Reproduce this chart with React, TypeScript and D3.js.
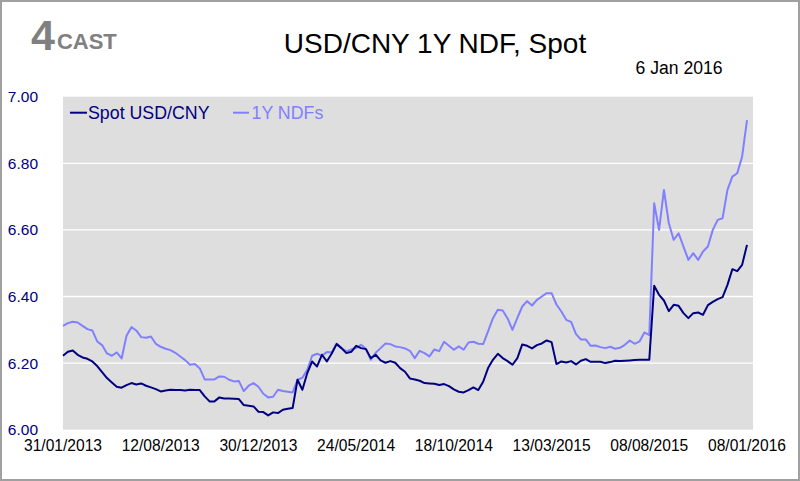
import React from "react";
import * as d3 from "d3";

const dateLabels = [
  "31/01/2013", "12/08/2013", "30/12/2013", "24/05/2014",
  "18/10/2014", "13/03/2015", "08/08/2015", "08/01/2016",
];
const yTicks = [6.0, 6.2, 6.4, 6.6, 6.8, 7.0];

const spot = [
  6.222, 6.234, 6.238, 6.225, 6.217, 6.213, 6.205, 6.191, 6.173, 6.155,
  6.142, 6.129, 6.126, 6.134, 6.140, 6.136, 6.139, 6.132, 6.127, 6.122,
  6.115, 6.118, 6.120, 6.119, 6.119, 6.118, 6.120, 6.119, 6.119, 6.100,
  6.085, 6.085, 6.097, 6.094, 6.094, 6.093, 6.092, 6.074, 6.072, 6.070,
  6.054, 6.053, 6.043, 6.052, 6.050, 6.060, 6.063, 6.065, 6.150, 6.120,
  6.170, 6.205, 6.190, 6.225, 6.205, 6.229, 6.257, 6.245, 6.230, 6.234,
  6.252, 6.245, 6.242, 6.215, 6.225, 6.208, 6.201, 6.206, 6.201, 6.185,
  6.174, 6.154, 6.151, 6.147, 6.140, 6.139, 6.138, 6.134, 6.137, 6.131,
  6.121, 6.114, 6.112, 6.119, 6.127, 6.119, 6.144, 6.185, 6.210, 6.228,
  6.215, 6.206, 6.195, 6.215, 6.256, 6.252, 6.244, 6.254, 6.259, 6.268,
  6.263, 6.197, 6.205, 6.202, 6.206, 6.196, 6.207, 6.212, 6.204, 6.204,
  6.204, 6.200, 6.203, 6.207, 6.206, 6.207, 6.208, 6.209, 6.210, 6.210,
  6.210, 6.432, 6.405, 6.388, 6.356, 6.375, 6.372, 6.350, 6.335, 6.350,
  6.352, 6.345, 6.374, 6.384, 6.392, 6.398, 6.435, 6.482, 6.476, 6.495,
  6.555,
];

const ndf = [
  6.312, 6.320, 6.324, 6.322, 6.312, 6.302, 6.298, 6.265, 6.254, 6.229,
  6.222, 6.232, 6.214, 6.282, 6.308, 6.298, 6.278, 6.276, 6.280, 6.258,
  6.249, 6.243, 6.239, 6.231, 6.220, 6.209, 6.195, 6.197, 6.184, 6.151,
  6.151, 6.151, 6.160, 6.159, 6.150, 6.145, 6.146, 6.116, 6.132, 6.140,
  6.129, 6.108, 6.097, 6.099, 6.120, 6.116, 6.114, 6.112, 6.150, 6.156,
  6.180, 6.222, 6.228, 6.222, 6.233, 6.232, 6.259, 6.245, 6.235, 6.241,
  6.246, 6.255, 6.243, 6.210, 6.231, 6.245, 6.259, 6.257, 6.250, 6.248,
  6.244, 6.237, 6.215, 6.237, 6.230, 6.220, 6.241, 6.236, 6.264, 6.252,
  6.240, 6.250, 6.240, 6.262, 6.264, 6.258, 6.257, 6.295, 6.335, 6.360,
  6.358, 6.334, 6.300, 6.336, 6.370, 6.386, 6.373, 6.390, 6.400, 6.410,
  6.410, 6.376, 6.355, 6.330, 6.324, 6.287, 6.271, 6.271, 6.252, 6.253,
  6.248, 6.245, 6.249, 6.243, 6.246, 6.255, 6.268, 6.258, 6.265, 6.292,
  6.284, 6.680, 6.600, 6.720, 6.620, 6.570, 6.590, 6.550, 6.510, 6.530,
  6.510, 6.535, 6.550, 6.600, 6.630, 6.635, 6.720, 6.760, 6.770, 6.820,
  6.930,
];

const seriesNames = ["Spot USD/CNY", "1Y NDFs"];
const seriesColors = ["#000080", "#8080ff"];

const W = 800;
const H = 481;
const plot = { left: 63, right: 753, top: 96.7, bottom: 429.7 };
const FONT = "'Liberation Sans', Arial, sans-serif";

export default function App() {
  const n = spot.length;
  const x = d3.scaleLinear().domain([0, n - 1]).range([63, 747]);
  const y = d3.scaleLinear().domain([6, 7]).range([plot.bottom, plot.top]);
  const step = (n - 1) / (dateLabels.length - 1);
  const line = d3
    .line<number>()
    .x((_, i) => x(i))
    .y((d) => y(d));

  return (
    <svg
      width={W}
      height={H}
      style={{ position: "absolute", left: 0, top: 0, background: "#fff" }}
      fontFamily={FONT}
    >
      <rect x={0} y={0} width={W} height={H} fill="#ffffff" />
      <rect x={1} y={1} width={W - 2} height={H - 2} fill="none" stroke="#a0a0a0" strokeWidth={2} />

      {/* logo */}
      <text x={31} y={50} fontSize={43} fontWeight="bold" fill="#808080">
        4
        <tspan fontSize={22} dx={2} dy={-1}>CAST</tspan>
      </text>

      {/* title */}
      <text x={435} y={53} fontSize={28} textAnchor="middle" fill="#000">
        USD/CNY 1Y NDF, Spot
      </text>
      <text x={679} y={74} fontSize={17.6} textAnchor="middle" fill="#000">
        6 Jan 2016
      </text>

      {/* plot area */}
      <rect
        x={plot.left}
        y={plot.top}
        width={plot.right - plot.left}
        height={plot.bottom - plot.top}
        fill="#dedede"
      />
      {yTicks
        .filter((t) => t > 6 && t < 7)
        .map((t) => (
          <line
            key={"g" + t}
            x1={plot.left}
            x2={plot.right}
            y1={y(t)}
            y2={y(t)}
            stroke="#ffffff"
            strokeWidth={1.3}
          />
        ))}
      {yTicks.map((t) => (
        <text
          key={"yt" + t}
          x={38}
          y={y(t)}
          dy="0.35em"
          fontSize={15.5}
          textAnchor="end"
          fill="#000080"
        >
          {t.toFixed(2)}
        </text>
      ))}
      {dateLabels.map((lab, k) => (
        <text
          key={"xt" + k}
          x={x(k * step)}
          y={450.5}
          fontSize={15.6}
          textAnchor="middle"
          fill="#000"
        >
          {lab}
        </text>
      ))}

      {/* lines */}
      <path d={line(ndf) || ""} fill="none" stroke={seriesColors[1]} strokeWidth={2} strokeLinejoin="round" />
      <path d={line(spot) || ""} fill="none" stroke={seriesColors[0]} strokeWidth={2} strokeLinejoin="round" />

      {/* legend */}
      <line x1={70} x2={87} y1={112.7} y2={112.7} stroke={seriesColors[0]} strokeWidth={2} />
      <text x={88} y={118.5} fontSize={17.8} fill={seriesColors[0]}>
        {seriesNames[0]}
      </text>
      <line x1={233} x2={249} y1={112.7} y2={112.7} stroke={seriesColors[1]} strokeWidth={2} />
      <text x={251.5} y={118.5} fontSize={17.8} fill={seriesColors[1]}>
        {seriesNames[1]}
      </text>
    </svg>
  );
}
